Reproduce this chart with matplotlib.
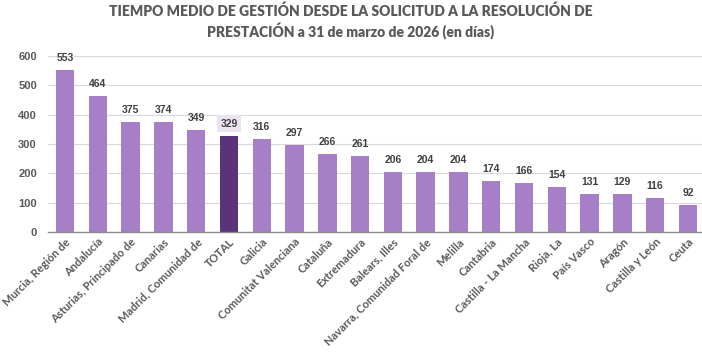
import matplotlib
matplotlib.use("Agg")
import matplotlib.pyplot as plt

categories = ["Murcia, Región de", "Andalucía", "Asturias, Principado de", "Canarias",
              "Madrid, Comunidad de", "TOTAL", "Galicia", "Comunitat Valenciana", "Cataluña",
              "Extremadura", "Balears, Illes", "Navarra, Comunidad Foral de", "Melilla",
              "Cantabria", "Castilla - La Mancha", "Rioja, La", "País Vasco", "Aragón",
              "Castilla y León", "Ceuta"]
values = [553, 464, 375, 374, 349, 329, 316, 297, 266, 261, 206, 204, 204, 174, 166, 154,
          131, 129, 116, 92]
yticks = [0, 100, 200, 300, 400, 500, 600]

light = "#a77fc6"
dark = "#5b3378"
gray = "#595959"
arial = ["Liberation Sans", "DejaVu Sans"]
narrow = ["Lato", "DejaVu Sans"]

fig = plt.figure(figsize=(7.02, 3.61), dpi=100)
ax = fig.add_axes([48/702, 0.357, (705-48)/702, 0.4875])
x = list(range(len(categories)))
colors = [dark if c == "TOTAL" else light for c in categories]
ax.bar(x, values, width=0.56, color=colors, zorder=2)
ax.set_xlim(-0.52, 19.52)
ax.set_ylim(0, 600)
ax.set_yticks(yticks)
ax.set_yticklabels([str(t) for t in yticks], fontsize=8, fontweight="bold", color=gray,
                   family=arial)
ax.set_xticks(x)
ax.set_xticklabels(categories, rotation=45, ha="right", rotation_mode="anchor",
                   fontsize=8, fontweight="bold", color=gray, family=narrow)
ax.tick_params(length=0)
ax.tick_params(axis="x", pad=3)
ax.tick_params(axis="y", pad=8)
ax.grid(axis="y", color="#d9d9d9", linewidth=0.8, zorder=0)
for s in ["top", "right", "left"]:
    ax.spines[s].set_visible(False)
ax.spines["bottom"].set_color("#8c8c8c")
ax.spines["bottom"].set_linewidth(1)
ax.spines["bottom"].set_zorder(3)

for xi, v, c in zip(x, values, categories):
    kw = {}
    if c == "TOTAL":
        kw["bbox"] = dict(boxstyle="square,pad=0.35", fc="#ebe3f0", ec="none")
    ax.annotate(str(v), (xi, v), xytext=(0, 5), textcoords="offset points",
                ha="center", va="bottom", fontsize=7.5, fontweight="bold", color="#404040",
                family=arial, **kw)

fig.text(0.5, 0.99, "TIEMPO MEDIO DE GESTIÓN DESDE LA SOLICITUD A LA RESOLUCIÓN DE\nPRESTACIÓN a 31 de marzo de 2026 (en días)",
         ha="center", va="top", fontsize=10, fontweight="heavy", color=gray,
         family=narrow, linespacing=1.35)

fig.savefig("out.png", dpi=100)
